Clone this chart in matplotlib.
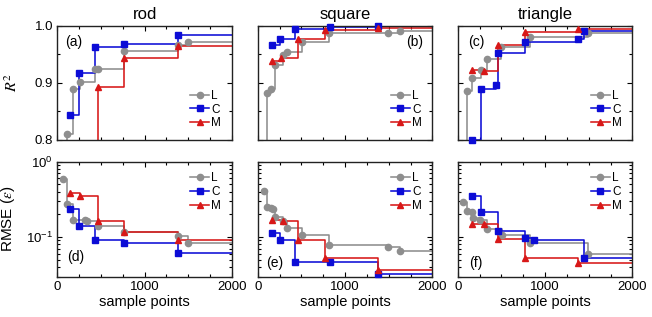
import numpy as np
import matplotlib
matplotlib.use("Agg")
import matplotlib.pyplot as plt
from matplotlib.lines import Line2D
from matplotlib.ticker import MultipleLocator, NullFormatter, LogLocator, FixedLocator

plt.rcParams['font.family'] = ['Liberation Sans', 'DejaVu Sans']
plt.rcParams['mathtext.fontset'] = 'stix'

shapes = ['rod', 'square', 'triangle']
methods = ['L', 'C', 'M']
r2_panel_labels = ['(a)', '(b)', '(c)']
rmse_panel_labels = ['(d)', '(e)', '(f)']
x_ticks = [0, 1000, 2000]
XMAX = 2000

# ---- rod ----
rod_r2_L_x = [69, 107, 176, 260, 432, 465, 767, 1385, 1493]
rod_r2_L_y = [0.70, 0.810, 0.889, 0.902, 0.924, 0.925, 0.955, 0.966, 0.971]
rod_r2_C_x = [145, 252, 432, 767, 1385]
rod_r2_C_y = [0.844, 0.917, 0.963, 0.968, 0.984]
rod_r2_M_x = [145, 252, 462, 767, 1385]
rod_r2_M_y = [0.65, 0.75, 0.892, 0.944, 0.965]
rod_rmse_L_x = [69, 107, 176, 317, 344, 462, 767, 1385, 1493]
rod_rmse_L_y = [0.58, 0.272, 0.170, 0.166, 0.163, 0.141, 0.115, 0.103, 0.083]
rod_rmse_C_x = [145, 252, 432, 767, 1385]
rod_rmse_C_y = [0.237, 0.138, 0.092, 0.083, 0.061]
rod_rmse_M_x = [149, 260, 462, 767, 1385]
rod_rmse_M_y = [0.388, 0.350, 0.164, 0.116, 0.091]

# ---- square ----
square_r2_L_x = [72, 106, 152, 198, 290, 330, 504, 820, 1495, 1629]
square_r2_L_y = [0.70, 0.882, 0.890, 0.931, 0.949, 0.954, 0.971, 0.987, 0.988, 0.990]
square_r2_C_x = [160, 255, 431, 828, 1381]
square_r2_C_y = [0.966, 0.977, 0.995, 0.997, 0.999]
square_r2_M_x = [160, 266, 465, 775, 1381]
square_r2_M_y = [0.938, 0.943, 0.977, 0.9925, 0.996]
square_rmse_L_x = [72, 105, 150, 172, 200, 294, 332, 504, 820, 1495, 1629]
square_rmse_L_y = [0.41, 0.247, 0.240, 0.233, 0.184, 0.164, 0.130, 0.106, 0.078, 0.073, 0.065]
square_rmse_C_x = [160, 255, 431, 828, 1381]
square_rmse_C_y = [0.112, 0.091, 0.047, 0.047, 0.032]
square_rmse_M_x = [160, 294, 465, 775, 1381]
square_rmse_M_y = [0.168, 0.164, 0.091, 0.052, 0.037]

# ---- triangle ----
triangle_r2_L_x = [65, 110, 160, 270, 339, 500, 828, 1496]
triangle_r2_L_y = [0.75, 0.886, 0.908, 0.922, 0.942, 0.962, 0.980, 0.988]
triangle_r2_C_x = [160, 267, 435, 465, 771, 1381, 1446]
triangle_r2_C_y = [0.800, 0.889, 0.897, 0.952, 0.972, 0.976, 0.990]
triangle_r2_M_x = [160, 305, 465, 771, 1381]
triangle_r2_M_y = [0.922, 0.921, 0.966, 0.9895, 0.9935]
triangle_rmse_L_x = [65, 110, 160, 179, 255, 335, 504, 828, 1496]
triangle_rmse_L_y = [0.288, 0.221, 0.216, 0.180, 0.168, 0.128, 0.106, 0.083, 0.060]
triangle_rmse_C_x = [160, 263, 465, 771, 874, 1446]
triangle_rmse_C_y = [0.349, 0.216, 0.121, 0.096, 0.091, 0.052]
triangle_rmse_M_x = [160, 301, 465, 771, 1381]
triangle_rmse_M_y = [0.149, 0.149, 0.093, 0.052, 0.045]

r2_data = [
    [(rod_r2_L_x, rod_r2_L_y), (rod_r2_C_x, rod_r2_C_y), (rod_r2_M_x, rod_r2_M_y)],
    [(square_r2_L_x, square_r2_L_y), (square_r2_C_x, square_r2_C_y), (square_r2_M_x, square_r2_M_y)],
    [(triangle_r2_L_x, triangle_r2_L_y), (triangle_r2_C_x, triangle_r2_C_y), (triangle_r2_M_x, triangle_r2_M_y)],
]
rmse_data = [
    [(rod_rmse_L_x, rod_rmse_L_y), (rod_rmse_C_x, rod_rmse_C_y), (rod_rmse_M_x, rod_rmse_M_y)],
    [(square_rmse_L_x, square_rmse_L_y), (square_rmse_C_x, square_rmse_C_y), (square_rmse_M_x, square_rmse_M_y)],
    [(triangle_rmse_L_x, triangle_rmse_L_y), (triangle_rmse_C_x, triangle_rmse_C_y), (triangle_rmse_M_x, triangle_rmse_M_y)],
]

colors = ['#8e8e8e', '#0c0cd6', '#d81818']
markers = ['o', 's', '^']
msizes = [4.5, 4.2, 4.6]
LW = 1.15

W, H = 652, 317
fig = plt.figure(figsize=(W / 100, H / 100), dpi=100)
lefts = [57.3, 257.7, 457.7]
aw = 174.7
top_rows = [(25.7, 114.3), (161.5, 115.0)]


def add_ax(lx, ty, h):
    return fig.add_axes([lx / W, 1 - (ty + h) / H, aw / W, h / H])


def style(ax):
    ax.tick_params(which='both', direction='in', top=True, right=True,
                   labelsize=9.5, width=0.8, pad=3)
    ax.tick_params(which='major', length=3.5)
    ax.tick_params(which='minor', length=2)
    for s in ax.spines.values():
        s.set_linewidth(1.0)
        s.set_color('#222222')
    ax.set_xlim(0, XMAX)
    ax.xaxis.set_major_locator(FixedLocator(x_ticks))
    ax.xaxis.set_minor_locator(MultipleLocator(250))


def draw(ax, series, ylo, yhi):
    for (x, y), c, m, ms in zip(series, colors, markers, msizes):
        x = np.asarray(x, float)
        y = np.asarray(y, float)
        xl = np.append(x, XMAX)
        yl = np.append(y, y[-1])
        ax.plot(xl, yl, drawstyle='steps-post', color=c, lw=LW, zorder=2)
        mask = (y >= ylo) & (y <= yhi)
        ax.plot(x[mask], y[mask], ls='none', marker=m, color=c, ms=ms,
                mec=c, zorder=3, clip_on=False)


handles = [Line2D([], [], color=c, marker=m, ms=ms, lw=LW)
           for c, m, ms in zip(colors, markers, msizes)]

for j in range(3):
    # top: R^2
    ax = add_ax(lefts[j], *top_rows[0])
    style(ax)
    ax.set_ylim(0.8, 1.0)
    ax.yaxis.set_major_locator(FixedLocator([0.8, 0.9, 1.0]))
    ax.yaxis.set_minor_locator(MultipleLocator(0.05))
    ax.yaxis.set_major_formatter(matplotlib.ticker.FormatStrFormatter('%.1f'))
    draw(ax, r2_data[j], 0.8, 1.0)
    ax.tick_params(labelbottom=False)
    if j > 0:
        ax.tick_params(labelleft=False)
    else:
        ax.set_ylabel(r'$R^2$', fontsize=11.5)
        ax.yaxis.set_label_coords(-0.215, 0.5)
    ax.set_title(shapes[j], fontsize=12, pad=4.5)
    if j == 1:
        ax.text(0.945, 0.857, r2_panel_labels[j], transform=ax.transAxes,
                fontsize=10, ha='right', va='center')
    else:
        ax.text(0.045 if j == 0 else 0.06, 0.857, r2_panel_labels[j],
                transform=ax.transAxes, fontsize=10, ha='left', va='center')
    ax.legend(handles, methods, loc='lower right', frameon=False, fontsize=8.5,
              handlelength=1.6, handletextpad=0.2, labelspacing=0.15,
              borderaxespad=0.6, borderpad=0.3)

    # bottom: RMSE
    ax = add_ax(lefts[j], *top_rows[1])
    style(ax)
    ax.set_yscale('log')
    ax.set_ylim(0.03, 1.0)
    ax.yaxis.set_major_locator(LogLocator(base=10))
    ax.yaxis.set_minor_locator(LogLocator(base=10, subs=np.arange(2, 10)))
    ax.yaxis.set_minor_formatter(NullFormatter())
    draw(ax, rmse_data[j], 0.03, 1.0)
    ax.set_xlabel('sample points', fontsize=10.5, labelpad=2)
    if j > 0:
        ax.tick_params(labelleft=False)
    else:
        ax.set_ylabel(r'RMSE ($\varepsilon$)', fontsize=11)
        ax.yaxis.set_label_coords(-0.23, 0.5)
    ylab = 0.167 if j == 0 else 0.115
    xlab = 0.054 if j == 0 else (0.05 if j == 1 else 0.066)
    ax.text(xlab, ylab, rmse_panel_labels[j], transform=ax.transAxes,
            fontsize=10, ha='left', va='center')
    ax.legend(handles, methods, loc='upper right', frameon=False, fontsize=8.5,
              handlelength=1.6, handletextpad=0.2, labelspacing=0.15,
              borderaxespad=0.6, borderpad=0.3)

fig.savefig('out.png', dpi=100)
